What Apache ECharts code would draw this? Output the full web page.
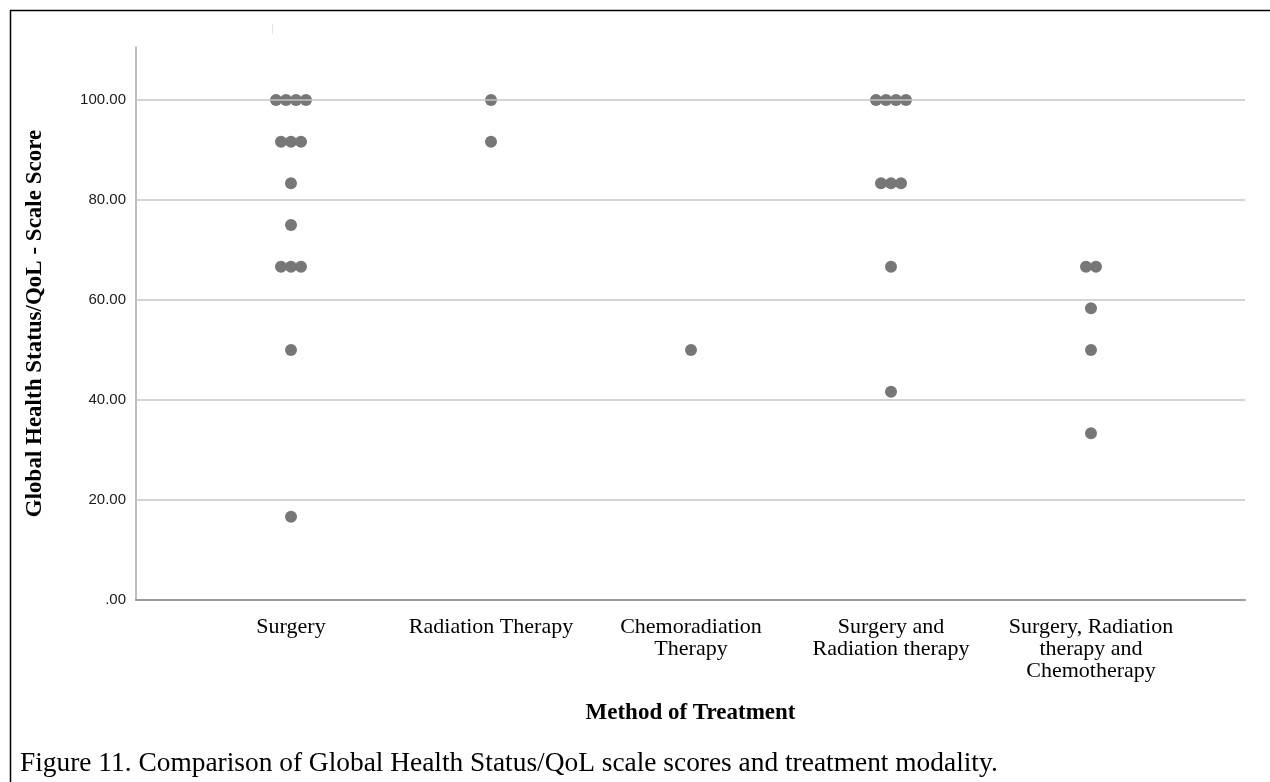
<!DOCTYPE html>
<html>
<head>
<meta charset="utf-8">
<script src="https://cdn.jsdelivr.net/npm/echarts@6/dist/echarts.min.js"></script>
<style>
  html, body { margin: 0; padding: 0; background: #fff; }
  #chart { width: 1270px; height: 782px; }
</style>
</head>
<body>
<div id="chart"></div>
<script>
// categories and the scores in each group (one entry per patient)
const categories = [
  'Surgery',
  'Radiation Therapy',
  'Chemoradiation\nTherapy',
  'Surgery and\nRadiation therapy',
  'Surgery, Radiation\ntherapy and\nChemotherapy'
];
const surgery = [100, 100, 100, 100, 91.67, 91.67, 91.67, 83.33, 75, 66.67, 66.67, 66.67, 50, 16.67];
const radiation = [100, 91.67];
const chemoradiation = [50];
const surgeryRadiation = [100, 100, 100, 100, 83.33, 83.33, 83.33, 66.67, 41.67];
const surgeryRadChemo = [66.67, 66.67, 58.33, 50, 33.33];
const yTicks = [20, 40, 60, 80, 100];

const groups = [surgery, radiation, chemoradiation, surgeryRadiation, surgeryRadChemo];

// stack equal values side by side around the category centre (dot plot)
const step = 0.05;
const points = [];
groups.forEach(function (vals, ci) {
  const counts = {};
  vals.forEach(function (v) { counts[v] = (counts[v] || 0) + 1; });
  Object.keys(counts).forEach(function (k) {
    const n = counts[k];
    for (let i = 0; i < n; i++) {
      points.push([ci + (i - (n - 1) / 2) * step, Number(k)]);
    }
  });
});

const chart = echarts.init(document.getElementById('chart'));
chart.setOption({
  animation: false,
  title: {
    text: 'Figure 11. Comparison of Global Health Status/QoL scale scores and treatment modality.',
    left: 15,
    top: 745,
    textStyle: { fontFamily: 'Liberation Serif', fontSize: 27.4, fontWeight: 'normal', color: '#000' }
  },
  grid: { left: 136, right: 25, top: 47, bottom: 182 },
  xAxis: {
    type: 'value',
    min: -0.775,
    max: 4.77,
    name: 'Method of Treatment',
    nameLocation: 'middle',
    nameGap: 102,
    nameTextStyle: { fontFamily: 'Liberation Serif', fontSize: 23, fontWeight: 'bold', color: '#000' },
    axisLine: { show: true, onZero: false, lineStyle: { color: '#9a9a9a', width: 2 } },
    axisTick: { show: false },
    splitLine: { show: false },
    axisLabel: {
      customValues: [0, 1, 2, 3, 4],
      formatter: function (v) { return categories[Math.round(v)]; },
      margin: 16,
      fontFamily: 'Liberation Serif',
      fontSize: 22,
      lineHeight: 22,
      color: '#000',
      align: 'center',
      verticalAlign: 'top'
    }
  },
  yAxis: {
    type: 'value',
    min: 0,
    max: 110.6,
    name: 'Global Health Status/QoL - Scale Score',
    nameLocation: 'middle',
    nameGap: 89,
    nameTextStyle: { fontFamily: 'Liberation Serif', fontSize: 23, fontWeight: 'bold', color: '#000' },
    axisLine: { show: true, onZero: false, lineStyle: { color: '#a8a8a8', width: 1.5 } },
    axisTick: { show: false },
    splitLine: { show: false },
    axisLabel: {
      customValues: [0].concat(yTicks),
      formatter: function (v) { return v === 0 ? '.00' : v.toFixed(2); },
      margin: 10,
      fontFamily: 'Liberation Sans',
      fontSize: 15,
      color: '#1a1a1a'
    }
  },
  series: [{
    type: 'scatter',
    data: points,
    symbol: 'circle',
    symbolSize: 12,
    itemStyle: { color: '#777777', opacity: 1 },
    markLine: {
      silent: true,
      symbol: 'none',
      label: { show: false },
      lineStyle: { color: '#c4c4c4', width: 1.5, type: 'solid' },
      data: yTicks.map(function (t) { return { yAxis: t }; })
    },
    z: 3
  }],
  graphic: [
    { type: 'line', shape: { x1: 10, y1: 10.5, x2: 1270, y2: 10.5 }, style: { stroke: '#000', lineWidth: 1.5 } },
    { type: 'line', shape: { x1: 10.5, y1: 10, x2: 10.5, y2: 782 }, style: { stroke: '#000', lineWidth: 1.5 } },
    { type: 'line', shape: { x1: 272.5, y1: 24, x2: 272.5, y2: 34 }, style: { stroke: '#e4e4e4', lineWidth: 1 } }
  ]
});
window.addEventListener('resize', function () { chart.resize(); });
</script>
</body>
</html>
